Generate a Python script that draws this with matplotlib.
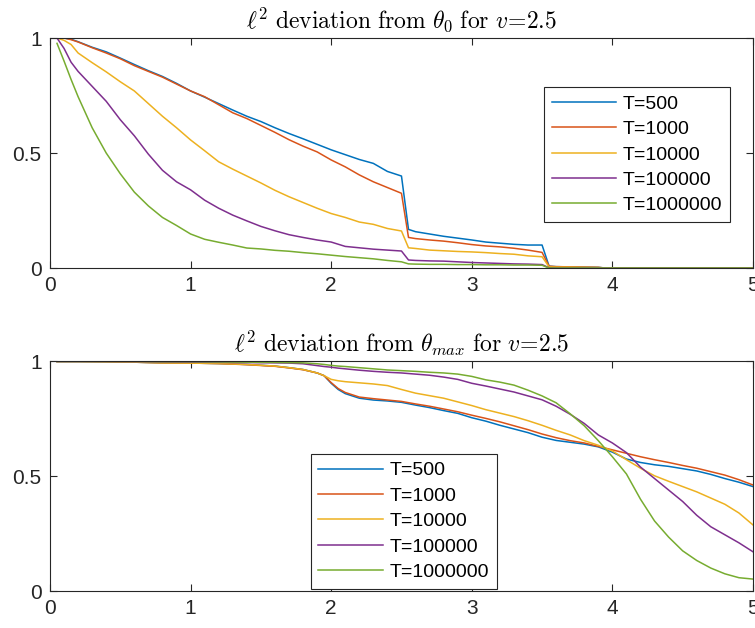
import numpy as np
import matplotlib
matplotlib.use("Agg")
import matplotlib.pyplot as plt

# =============================================================================
# DATA
# =============================================================================

labels = ["T=500", "T=1000", "T=10000", "T=100000", "T=1000000"]
colors = ["#0072BD", "#D95319", "#EDB120", "#7E2F8E", "#77AC30"]

# top panel: deviation from theta_0
x_top = [0.05, 0.1, 0.15, 0.2, 0.3, 0.4, 0.5, 0.6, 0.7, 0.8, 0.9, 1.0,
         1.1, 1.2, 1.3, 1.4, 1.5, 1.6, 1.7, 1.8, 1.9, 2.0, 2.1, 2.2,
         2.3, 2.4, 2.5, 2.55, 2.6, 2.7, 2.8, 2.9, 3.0, 3.1, 3.2, 3.3,
         3.4, 3.5, 3.55, 3.6, 3.7, 3.8, 3.9, 3.95, 4.0, 4.5, 5.0]

top_t500 = [1.0, 1.0, 0.995, 0.984, 0.96, 0.94, 0.913, 0.885, 0.858, 0.833, 0.803, 0.77,
            0.743, 0.715, 0.687, 0.66, 0.637, 0.61, 0.585, 0.562, 0.538, 0.514, 0.493, 0.472,
            0.455, 0.42, 0.40, 0.168, 0.158, 0.148, 0.138, 0.13, 0.122, 0.113, 0.108, 0.103,
            0.10, 0.10, 0.008, 0.006, 0.005, 0.004, 0.003, 0.0, 0.0, 0.0, 0.0]
top_t1000 = [1.0, 1.0, 0.993, 0.983, 0.958, 0.935, 0.91, 0.88, 0.855, 0.83, 0.80, 0.77,
             0.745, 0.71, 0.675, 0.65, 0.62, 0.59, 0.558, 0.53, 0.505, 0.47, 0.44, 0.405,
             0.375, 0.35, 0.325, 0.133, 0.128, 0.122, 0.117, 0.11, 0.102, 0.096, 0.092, 0.086,
             0.078, 0.068, 0.008, 0.006, 0.005, 0.004, 0.003, 0.0, 0.0, 0.0, 0.0]
top_t10000 = [1.0, 0.99, 0.972, 0.935, 0.893, 0.853, 0.81, 0.77, 0.715, 0.66, 0.61, 0.557,
              0.51, 0.462, 0.43, 0.40, 0.37, 0.338, 0.31, 0.285, 0.26, 0.237, 0.22, 0.20,
              0.19, 0.172, 0.161, 0.088, 0.085, 0.078, 0.075, 0.072, 0.07, 0.067, 0.063, 0.06,
              0.053, 0.049, 0.005, 0.004, 0.004, 0.003, 0.002, 0.0, 0.0, 0.0, 0.0]
top_t100000 = [1.0, 0.955, 0.895, 0.855, 0.79, 0.725, 0.645, 0.575, 0.495, 0.425, 0.375, 0.34,
               0.295, 0.26, 0.23, 0.205, 0.181, 0.162, 0.145, 0.133, 0.122, 0.113, 0.094, 0.088,
               0.082, 0.078, 0.074, 0.035, 0.033, 0.031, 0.03, 0.027, 0.024, 0.022, 0.02, 0.018,
               0.017, 0.015, 0.001, 0.0, 0.0, 0.0, 0.0, 0.0, 0.0, 0.0, 0.0]
top_t1000000 = [0.977, 0.90, 0.82, 0.745, 0.61, 0.50, 0.41, 0.33, 0.27, 0.22, 0.185, 0.148,
                0.125, 0.112, 0.10, 0.087, 0.083, 0.077, 0.073, 0.067, 0.062, 0.056, 0.05, 0.045,
                0.04, 0.033, 0.027, 0.018, 0.017, 0.016, 0.016, 0.015, 0.015, 0.014, 0.014, 0.013,
                0.013, 0.012, 0.0, 0.0, 0.0, 0.0, 0.0, 0.0, 0.0, 0.0, 0.0]

# bottom panel: deviation from theta_max
x_bot = [0.05, 0.2, 0.4, 0.6, 0.8, 1.0, 1.2, 1.4, 1.6, 1.7, 1.8, 1.9, 1.95,
         2.0, 2.05, 2.1, 2.2, 2.3, 2.4, 2.5, 2.6, 2.7, 2.8, 2.9, 3.0,
         3.1, 3.2, 3.3, 3.4, 3.5, 3.6, 3.7, 3.8, 3.9, 4.0, 4.1, 4.2,
         4.3, 4.4, 4.5, 4.6, 4.7, 4.8, 4.9, 5.0]

bot_t500 = [1.0, 1.0, 0.999, 0.997, 0.994, 0.993, 0.991, 0.987, 0.98, 0.973, 0.965, 0.95, 0.938,
            0.905, 0.878, 0.86, 0.84, 0.832, 0.828, 0.822, 0.81, 0.799, 0.786, 0.774, 0.755,
            0.74, 0.722, 0.706, 0.69, 0.67, 0.656, 0.648, 0.64, 0.628, 0.605, 0.575, 0.56,
            0.55, 0.543, 0.533, 0.523, 0.508, 0.49, 0.474, 0.455]
bot_t1000 = [1.0, 1.0, 0.999, 0.997, 0.994, 0.993, 0.991, 0.986, 0.979, 0.972, 0.964, 0.95, 0.938,
             0.908, 0.882, 0.865, 0.845, 0.838, 0.832, 0.826, 0.815, 0.805, 0.793, 0.781, 0.766,
             0.752, 0.737, 0.72, 0.703, 0.684, 0.668, 0.655, 0.645, 0.63, 0.615, 0.6, 0.585,
             0.572, 0.56, 0.547, 0.535, 0.52, 0.505, 0.485, 0.462]
bot_t10000 = [1.0, 1.0, 0.999, 0.997, 0.994, 0.993, 0.991, 0.987, 0.98, 0.973, 0.965, 0.95, 0.938,
              0.922, 0.916, 0.912, 0.907, 0.902, 0.895, 0.878, 0.862, 0.851, 0.84, 0.824, 0.808,
              0.79, 0.775, 0.76, 0.742, 0.722, 0.70, 0.68, 0.655, 0.635, 0.61, 0.572, 0.535,
              0.502, 0.478, 0.455, 0.432, 0.405, 0.378, 0.34, 0.288]
bot_t100000 = [1.0, 1.0, 1.0, 0.999, 0.998, 0.997, 0.996, 0.995, 0.994, 0.993, 0.99, 0.982, 0.978,
               0.975, 0.971, 0.968, 0.962, 0.957, 0.953, 0.95, 0.945, 0.94, 0.932, 0.922, 0.905,
               0.893, 0.88, 0.867, 0.85, 0.833, 0.805, 0.77, 0.73, 0.68, 0.645, 0.603, 0.54,
               0.49, 0.44, 0.39, 0.33, 0.28, 0.245, 0.21, 0.171]
bot_t1000000 = [1.0, 1.0, 1.0, 1.0, 0.999, 0.999, 0.998, 0.997, 0.996, 0.995, 0.994, 0.99, 0.987,
                0.983, 0.98, 0.978, 0.973, 0.968, 0.963, 0.96, 0.957, 0.953, 0.95, 0.945, 0.935,
                0.92, 0.91, 0.897, 0.875, 0.85, 0.82, 0.772, 0.72, 0.655, 0.585, 0.51, 0.40,
                0.305, 0.235, 0.175, 0.133, 0.10, 0.075, 0.058, 0.052]

top_series = [top_t500, top_t1000, top_t10000, top_t100000, top_t1000000]
bot_series = [bot_t500, bot_t1000, bot_t10000, bot_t100000, bot_t1000000]

# =============================================================================
# STYLE
# =============================================================================

plt.rcParams["font.family"] = ["Liberation Sans", "DejaVu Sans"]
plt.rcParams["mathtext.fontset"] = "cm"

AX_COLOR = "#262626"
TICK_SIZE = 15
LEG_SIZE = 14
TITLE_SIZE = 17


def style_axes(ax):
    ax.set_xlim(0, 5)
    ax.set_ylim(0, 1)
    ax.set_xticks([0, 1, 2, 3, 4, 5])
    ax.set_yticks([0, 0.5, 1])
    ax.set_yticklabels(["0", "0.5", "1"])
    ax.tick_params(direction="in", top=True, right=True, length=5, width=0.8,
                   color=AX_COLOR, labelcolor=AX_COLOR, labelsize=TICK_SIZE, pad=6)
    for sp in ax.spines.values():
        sp.set_color(AX_COLOR)
        sp.set_linewidth(0.8)


def add_legend(ax, anchor):
    leg = ax.legend(loc="upper left", bbox_to_anchor=anchor, borderaxespad=0,
                    fontsize=LEG_SIZE, handlelength=3.3, handletextpad=0.35,
                    labelspacing=0.40, borderpad=0.4, fancybox=False,
                    framealpha=1, edgecolor=AX_COLOR)
    leg.get_frame().set_linewidth(0.8)
    return leg


fig = plt.figure(figsize=(7.55, 6.28), dpi=100)

ax1 = fig.add_axes([0.0662, 0.5732, 0.9311, 0.3662])
for ys, c, lab in zip(top_series, colors, labels):
    ax1.plot(x_top, ys, color=c, lw=1.1, label=lab)
style_axes(ax1)
ax1.set_title(r"$\ell^2\ \mathrm{deviation\ from}\ \theta_0\ \mathrm{for}\ v\!=\!2.5$",
              fontsize=TITLE_SIZE, pad=7)
add_legend(ax1, (0.7027, 0.7857))

ax2 = fig.add_axes([0.0662, 0.0589, 0.9311, 0.3655])
for ys, c, lab in zip(bot_series, colors, labels):
    ax2.plot(x_bot, ys, color=c, lw=1.1, label=lab)
style_axes(ax2)
ax2.set_title(r"$\ell^2\ \mathrm{deviation\ from}\ \theta_{max}\ \mathrm{for}\ v\!=\!2.5$",
              fontsize=TITLE_SIZE, pad=7)
add_legend(ax2, (0.3708, 0.597))

fig.savefig("out.png", dpi=100)
